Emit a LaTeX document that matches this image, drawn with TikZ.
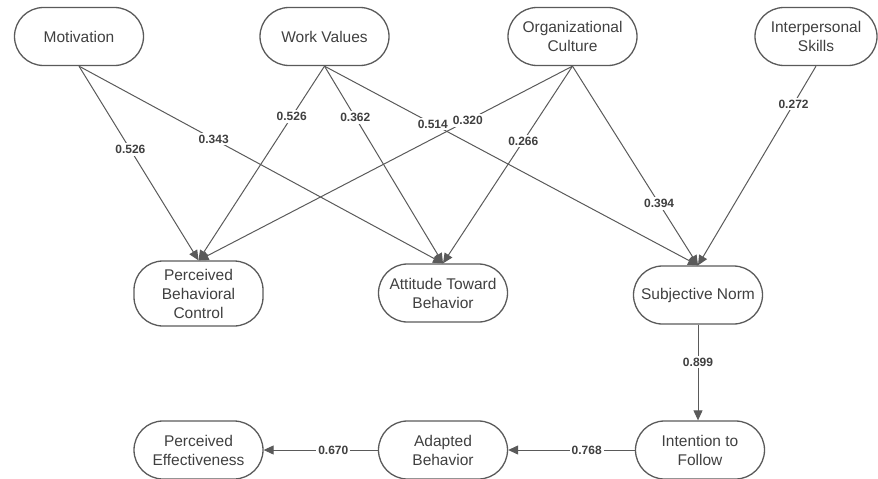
\documentclass[tikz,border=0pt]{standalone}
\usepackage{fontspec}
\setmainfont{Liberation Sans}
\usetikzlibrary{arrows.meta}
\definecolor{ln}{HTML}{5A5A5A}
\definecolor{tx}{HTML}{404040}
\begin{document}
\begin{tikzpicture}[x=1pt,y=-1pt,
  box/.style={draw=ln, line width=1.3pt, rounded corners=29pt, minimum width=129pt,
    minimum height=58pt, inner sep=0pt, align=center, text=tx,
    font=\fontsize{15.5}{19}\selectfont},
  edge/.style={draw=ln, line width=1pt, -{Triangle[length=10pt,width=9pt]}},
  lab/.style={fill=white, inner sep=2pt, text=tx, font=\bfseries\fontsize{12}{12}\selectfont}]
\useasboundingbox (0,0) rectangle (878,479);
% top row
\node[box] (mot) at (79,36.5) {Motivation};
\node[box] (wv) at (324.5,36.5) {Work Values};
\node[box] (oc) at (572.5,36.5) {Organizational\\Culture};
\node[box, minimum width=122pt] (is) at (816,36.5) {Interpersonal\\Skills};
% middle row
\node[box, minimum height=65pt] (pbc) at (198.5,293.5) {Perceived\\Behavioral\\Control};
\node[box] (atb) at (443,293) {Attitude Toward\\Behavior};
\node[box] (sn) at (698,295) {Subjective Norm};
% bottom row
\node[box] (pe) at (198.5,450) {Perceived\\Effectiveness};
\node[box] (ab) at (443,450) {Adapted\\Behavior};
\node[box] (itf) at (700,450) {Intention to\\Follow};
% edges
\draw[edge] (mot.south) -- node[lab,pos=.43]{0.526} (pbc.north);
\draw[edge] (mot.south) -- node[lab,pos=.37]{0.343} (atb.north);
\draw[edge] (wv.south) -- node[lab,pos=.26]{0.526} (pbc.north);
\draw[edge] (wv.south) -- node[lab,pos=.26]{0.362} (atb.north);
\draw[edge] (wv.south) -- node[lab,pos=.29]{0.514} (sn.north);
\draw[edge] (oc.south) -- node[lab,pos=.28]{0.320} (pbc.north);
\draw[edge] (oc.south) -- node[lab,pos=.38]{0.266} (atb.north);
\draw[edge] (oc.south) -- node[lab,pos=.69]{0.394} (sn.north);
\draw[edge] (is.south) -- node[lab,pos=.19]{0.272} (sn.north);
\draw[edge] (sn.south) -- node[lab,pos=.39]{0.899} (sn.south |- itf.north);
\draw[edge] (itf.west) -- node[lab,pos=.38]{0.768} (ab.east);
\draw[edge] (ab.west) -- node[lab,pos=.39]{0.670} (pe.east);
\end{tikzpicture}
\end{document}
